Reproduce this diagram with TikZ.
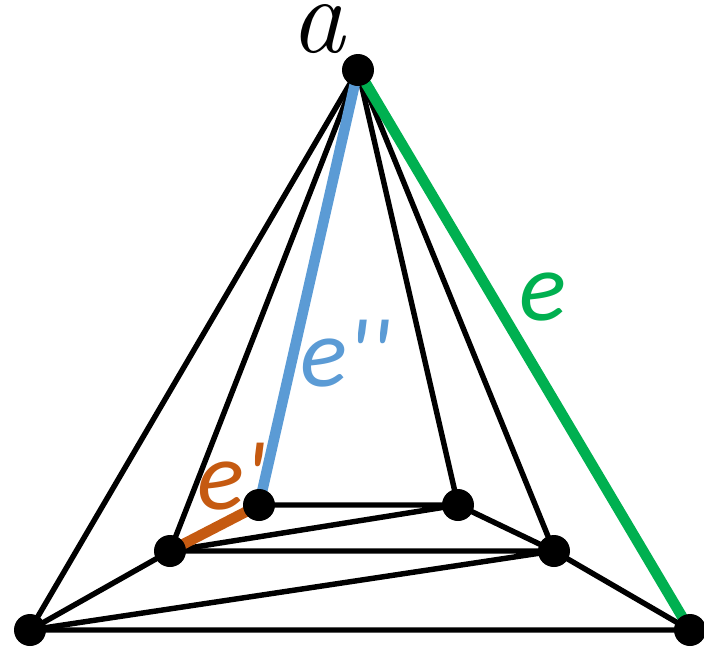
\documentclass[tikz,border=0pt]{standalone}
\usepackage{fontspec}
\usepackage{xcolor}
\usepackage{tikz}
\usetikzlibrary{positioning}
\newfontfamily\labfont{Carlito}
\definecolor{eblue}{HTML}{5B9BD5}
\definecolor{egreen}{HTML}{00B050}
\definecolor{eorange}{HTML}{C55A11}

\begin{document}
\begin{tikzpicture}[x=0.02cm,y=-0.02cm,
  edge/.style={line width=3.1pt},
  hot/.style={line width=6pt},
  dot/.style={circle,fill=black,inner sep=0pt,minimum size=0.64cm},
  lab/.style={font=\labfont\itshape\fontsize{56}{60}\selectfont,inner sep=0pt,anchor=base west}]
  \useasboundingbox (0,0) rectangle (704,650);
  % vertices
  \coordinate (a)  at (358,70);
  \coordinate (bl) at (30,630);
  \coordinate (br) at (690,630);
  \coordinate (ml) at (170,551);
  \coordinate (mr) at (554,551);
  \coordinate (il) at (259,505);
  \coordinate (ir) at (458,505);
  % black edges
  \draw[edge] (a) -- (bl) -- (br);
  \draw[edge] (a) -- (ml);
  \draw[edge] (a) -- (ir) -- (mr) -- (br);
  \draw[edge] (a) -- (mr);
  \draw[edge] (bl) -- (ml) -- (mr) -- (bl);
  \draw[edge] (ml) -- (ir) -- (il);
  % coloured edges
  \draw[hot,egreen] (a) -- (br);
  \draw[hot,eblue] (a) -- (il);
  \draw[hot,eorange] (ml) -- (il);
  % dots
  \foreach \v in {a,bl,br,ml,mr,il,ir}
    \node[dot] (d\v) at (\v) {};
  % labels
  \node[font=\itshape\fontsize{62}{64}\selectfont,inner sep=0pt,text height=0.45em,anchor=base west] (la) at (290,52) {a};
  \node[lab,text=eblue] (lee) at (300,386) {e\textquotesingle\textquotesingle};
  \node[lab,text=egreen] (le) at (519,320) {e};
  \node[lab,text=eorange] (lep) at (197,509) {e\textquotesingle};
\end{tikzpicture}
\end{document}
